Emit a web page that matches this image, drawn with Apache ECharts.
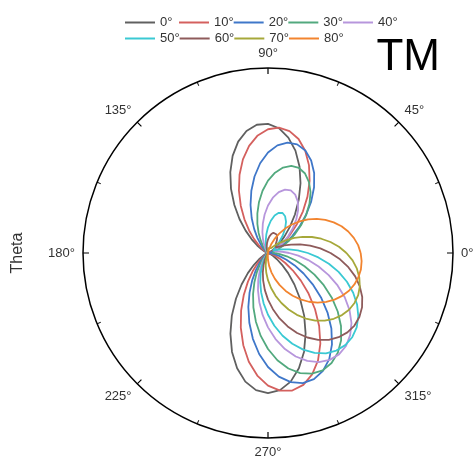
<!DOCTYPE html>
<html>
<head>
<meta charset="utf-8">
<script src="https://cdn.jsdelivr.net/npm/echarts@6/dist/echarts.min.js"></script>
<style>
  html, body { margin: 0; padding: 0; background: #fff; }
  #chart { width: 475px; height: 463px; }
</style>
</head>
<body>
<div id="chart"></div>
<script>
    // polar angle of every sample, degrees (0, 5, ..., 355)
    const thetaDeg = [];
    for (let a = 0; a < 360; a += 5) thetaDeg.push(a);

    const seriesNames = ['0°', '10°', '20°', '30°', '40°', '50°', '60°', '70°', '80°'];
    const seriesColors = ['#606060', '#d4605e', '#3f77c9', '#52a97e', '#b796dc',
        '#3ac9d3', '#8e5b5b', '#a6a83a', '#f2842f'];
    const angleTicks = [0, 45, 90, 135, 180, 225, 270, 315];

    // normalised radius, one value per thetaDeg entry
    const r0 = [
        0, 0, 0, 0.001, 0.004, 0.010, 0.023, 0.045, 0.079, 0.125, 0.184, 0.254,
        0.333, 0.416, 0.498, 0.573, 0.633, 0.677, 0.698, 0.696, 0.670, 0.623, 0.559, 0.482,
        0.400, 0.317, 0.240, 0.171, 0.115, 0.071, 0.040, 0.020, 0.008, 0.003, 0.001, 0,
        0, 0, 0, 0.002, 0.005, 0.014, 0.031, 0.059, 0.099, 0.154, 0.222, 0.302,
        0.391, 0.481, 0.569, 0.645, 0.706, 0.744, 0.757, 0.744, 0.706, 0.645, 0.569, 0.481,
        0.391, 0.302, 0.222, 0.154, 0.099, 0.059, 0.031, 0.014, 0.005, 0.002, 0, 0];
    const r10 = [
        0, 0, 0.002, 0.007, 0.018, 0.037, 0.066, 0.106, 0.159, 0.222, 0.294, 0.372,
        0.450, 0.524, 0.588, 0.638, 0.669, 0.680, 0.669, 0.638, 0.588, 0.524, 0.450, 0.372,
        0.294, 0.222, 0.159, 0.106, 0.066, 0.037, 0.018, 0.007, 0.002, 0, 0, 0,
        0, 0, 0, 0, 0.001, 0.003, 0.010, 0.024, 0.047, 0.081, 0.129, 0.189,
        0.262, 0.344, 0.430, 0.516, 0.597, 0.665, 0.717, 0.747, 0.755, 0.738, 0.698, 0.640,
        0.566, 0.482, 0.395, 0.310, 0.232, 0.163, 0.108, 0.066, 0.036, 0.017, 0.007, 0.002];
    const r20 = [
        0.008, 0.005, 0.009, 0.020, 0.040, 0.069, 0.109, 0.160, 0.222, 0.290, 0.363, 0.434,
        0.499, 0.552, 0.590, 0.608, 0.606, 0.584, 0.543, 0.487, 0.420, 0.348, 0.276, 0.209,
        0.149, 0.100, 0.062, 0.035, 0.017, 0.007, 0.002, 0.001, 0, 0, 0, 0,
        0, 0, 0, 0, 0, 0, 0.003, 0.008, 0.021, 0.041, 0.073, 0.116,
        0.171, 0.236, 0.311, 0.390, 0.471, 0.548, 0.616, 0.671, 0.709, 0.728, 0.726, 0.703,
        0.662, 0.603, 0.533, 0.455, 0.374, 0.295, 0.222, 0.159, 0.106, 0.065, 0.036, 0.017];
    const r30 = [
        0.038, 0.024, 0.022, 0.034, 0.055, 0.088, 0.129, 0.178, 0.233, 0.292, 0.349, 0.401,
        0.443, 0.474, 0.489, 0.487, 0.469, 0.436, 0.391, 0.338, 0.280, 0.222, 0.168, 0.120,
        0.080, 0.050, 0.028, 0.014, 0.006, 0.002, 0, 0, 0, 0, 0, 0,
        0, 0, 0, 0, 0, 0, 0, 0.003, 0.010, 0.024, 0.046, 0.078,
        0.121, 0.174, 0.236, 0.305, 0.377, 0.450, 0.519, 0.582, 0.634, 0.672, 0.694, 0.700,
        0.687, 0.658, 0.615, 0.558, 0.492, 0.421, 0.348, 0.277, 0.210, 0.152, 0.103, 0.064];
    const r40 = [
        0.115, 0.077, 0.049, 0.033, 0.031, 0.042, 0.067, 0.101, 0.143, 0.190, 0.238, 0.284,
        0.322, 0.348, 0.360, 0.355, 0.334, 0.300, 0.257, 0.209, 0.161, 0.117, 0.079, 0.050,
        0.029, 0.015, 0.007, 0.003, 0, 0, 0, 0, 0, 0, 0, 0,
        0, 0, 0, 0, 0, 0, 0, 0, 0.002, 0.007, 0.019, 0.039,
        0.068, 0.106, 0.154, 0.209, 0.270, 0.336, 0.402, 0.467, 0.527, 0.579, 0.621, 0.651,
        0.667, 0.669, 0.656, 0.628, 0.589, 0.538, 0.479, 0.415, 0.349, 0.283, 0.221, 0.164];
    const r50 = [
        0.215, 0.162, 0.115, 0.076, 0.048, 0.031, 0.026, 0.035, 0.057, 0.088, 0.124, 0.161,
        0.195, 0.219, 0.230, 0.225, 0.206, 0.175, 0.139, 0.102, 0.069, 0.043, 0.024, 0.012,
        0.005, 0.002, 0, 0, 0, 0, 0, 0, 0, 0, 0, 0,
        0, 0, 0, 0, 0, 0, 0, 0, 0, 0.001, 0.008, 0.022,
        0.044, 0.075, 0.115, 0.162, 0.215, 0.273, 0.334, 0.395, 0.454, 0.508, 0.556, 0.596,
        0.626, 0.644, 0.650, 0.644, 0.626, 0.596, 0.556, 0.508, 0.454, 0.395, 0.334, 0.273];
    const r60 = [
        0.338, 0.284, 0.231, 0.180, 0.133, 0.098, 0.070, 0.052, 0.046, 0.051, 0.066, 0.084,
        0.099, 0.110, 0.115, 0.113, 0.104, 0.090, 0.073, 0.056, 0.039, 0.026, 0.015, 0.008,
        0.004, 0.002, 0, 0, 0, 0, 0, 0, 0, 0, 0, 0,
        0, 0, 0, 0, 0, 0, 0, 0, 0, 0, 0, 0.005,
        0.019, 0.041, 0.071, 0.108, 0.151, 0.200, 0.252, 0.305, 0.359, 0.411, 0.460, 0.504,
        0.542, 0.573, 0.594, 0.607, 0.610, 0.603, 0.587, 0.562, 0.528, 0.488, 0.441, 0.391];
    const r70 = [
        0.424, 0.385, 0.343, 0.298, 0.253, 0.207, 0.164, 0.122, 0.090, 0.068, 0.047, 0.035,
        0.030, 0.033, 0.035, 0.034, 0.032, 0.027, 0.022, 0.017, 0.012, 0.008, 0.005, 0.002,
        0, 0, 0, 0, 0, 0, 0, 0, 0, 0, 0, 0,
        0, 0, 0, 0, 0, 0, 0, 0, 0, 0, 0, 0,
        0, 0.004, 0.019, 0.042, 0.072, 0.107, 0.147, 0.190, 0.235, 0.280, 0.325, 0.369,
        0.409, 0.446, 0.477, 0.503, 0.522, 0.535, 0.540, 0.538, 0.528, 0.511, 0.488, 0.459];
    const r80 = [
        0.501, 0.489, 0.471, 0.449, 0.423, 0.392, 0.358, 0.322, 0.283, 0.242, 0.201, 0.161,
        0.121, 0.084, 0.050, 0.022, 0.002, 0, 0, 0, 0, 0, 0, 0,
        0, 0, 0, 0, 0, 0, 0, 0, 0, 0, 0, 0,
        0, 0, 0, 0, 0, 0, 0, 0, 0, 0, 0, 0,
        0, 0, 0, 0, 0, 0.012, 0.038, 0.070, 0.106, 0.145, 0.185, 0.226,
        0.267, 0.306, 0.344, 0.379, 0.411, 0.439, 0.463, 0.483, 0.497, 0.506, 0.510, 0.508];

    const radii = [r0, r10, r20, r30, r40, r50, r60, r70, r80];

    const FONT = 'Liberation Sans, Arial, sans-serif';

    const LEGEND_OPTION = {
        orient: 'horizontal',
        icon: 'rect',
        itemWidth: 30,
        itemHeight: 2,
        itemGap: 0,
        textStyle: {
            color: '#333',
            fontSize: 13,
            fontFamily: FONT
        }
    };

    const chart = echarts.init(document.getElementById('chart'));

    chart.setOption({
        animation: false,
        title: {
            text: 'TM',
            right: 30,
            top: 31,
            textStyle: {
                fontSize: 44,
                fontWeight: 'normal',
                color: '#000',
                fontFamily: FONT
            }
        },
        // the first entry is narrower, so it gets its own legend to keep the column step
        legend: [
            Object.assign({ left: 120, top: 11, data: seriesNames.slice(0, 1) }, LEGEND_OPTION),
            Object.assign({ left: 174, top: 11, data: seriesNames.slice(1, 5) }, LEGEND_OPTION),
            Object.assign({ left: 120, top: 27, data: seriesNames.slice(5) }, LEGEND_OPTION)
        ],
        graphic: [{
            type: 'text',
            x: 18,
            y: 253,
            rotation: Math.PI / 2,
            style: {
                text: 'Theta',
                fontSize: 16,
                fontFamily: FONT,
                fill: '#333',
                textAlign: 'center',
                textVerticalAlign: 'middle'
            }
        }],
        polar: {
            center: [268, 253],
            radius: 185
        },
        angleAxis: {
            type: 'value',
            min: 0,
            max: 360,
            interval: 45,
            startAngle: 0,
            clockwise: false,
            axisLine: {
                lineStyle: { color: '#000', width: 1.5 }
            },
            axisTick: {
                inside: true,
                length: 6,
                lineStyle: { color: '#000', width: 1.2 }
            },
            minorTick: {
                show: true,
                splitNumber: 2,
                length: 4,
                lineStyle: { color: '#000', width: 1 }
            },
            axisLabel: {
                margin: 8,
                color: '#333',
                fontSize: 13,
                fontFamily: FONT,
                formatter(value) {
                    return angleTicks.indexOf(value) >= 0 ? value + '°' : '';
                }
            },
            splitLine: { show: false }
        },
        radiusAxis: {
            type: 'value',
            min: 0,
            max: 1,
            axisLine: { show: false },
            axisTick: { show: false },
            axisLabel: { show: false },
            splitLine: { show: false }
        },
        series: radii.map((r, k) => ({
            name: seriesNames[k],
            type: 'line',
            coordinateSystem: 'polar',
            smooth: false,
            symbol: 'none',
            color: seriesColors[k],
            lineStyle: { width: 1.8, color: seriesColors[k] },
            data: r.map((v, i) => [v, thetaDeg[i]]).concat([[r[0], 360]])
        }))
    });
</script>
</body>
</html>
